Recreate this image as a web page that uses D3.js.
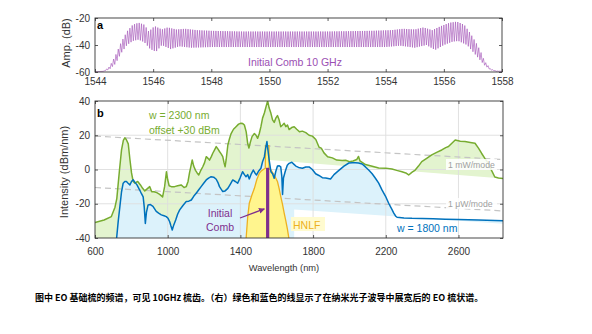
<!DOCTYPE html>
<html>
<head>
<meta charset="utf-8">
<script src="https://cdn.jsdelivr.net/npm/d3@7"></script>
<style>
  body { margin: 0; background: #fff; }
  svg { display: block; font-family: "Liberation Sans", Arial, sans-serif; }
  .tick text { fill: #333; font-size: 10px; }
  .tick line { stroke: #333; stroke-width: 0.8; }
</style>
</head>
<body>
<div id="chart"></div>
<script>
// panel a: envelope of the initial 10 GHz comb (nm, dB)
const combUpper = [[1544.0,-59.8],[1544.3,-59.5],[1544.5,-56],[1544.7,-48],[1544.9,-38],[1545.1,-30],[1545.3,-25],[1545.5,-23.5],[1545.7,-25],[1545.85,-30],[1546.05,-26],[1546.3,-28.5],[1546.5,-27],[1546.8,-28.5],[1547.1,-28],[1547.5,-29],[1548,-29.5],[1549,-30],[1552,-30],[1553.5,-29.5],[1554.2,-29],[1554.6,-28],[1555.0,-28.5],[1555.3,-27],[1555.6,-29],[1555.9,-26],[1556.2,-23.5],[1556.45,-22.7],[1556.7,-25],[1556.9,-31],[1557.1,-38],[1557.25,-44],[1557.4,-52],[1557.6,-57.5],[1557.8,-59.3],[1558,-59.5]];
const combLower = [[1544.0,-59.8],[1544.3,-59.5],[1544.5,-58],[1544.7,-54],[1544.9,-46],[1545.1,-40],[1545.3,-37],[1545.5,-36],[1545.7,-38],[1545.9,-43],[1546.1,-45],[1546.3,-40],[1546.6,-43],[1546.9,-41],[1547.3,-42],[1548,-41.5],[1552,-41.5],[1554,-41.5],[1554.5,-40.5],[1555,-42],[1555.4,-40],[1555.7,-43.7],[1556,-40],[1556.3,-37.5],[1556.5,-37],[1556.8,-40],[1557.0,-45],[1557.2,-50],[1557.4,-55],[1557.6,-58.5],[1557.8,-59.5],[1558,-59.5]];
const combSpacing = 0.08; // 10 GHz at 1550 nm
const xTicksA = [1544,1546,1548,1550,1552,1554,1556,1558];
const yTicksA = [-60,-40,-20];

// panel b: spectra (nm, dBm/nm)
const greenW2300 = [[600,-31],[650,-29.5],[690,-27.5],[710,-22],[720,-17],[735,0],[746,11.5],[756,17],[764,18.5],[772,17.5],[783,15],[792,6],[801,-2],[810,-7],[820,-8],[835,-7],[850,-9],[862,-11],[874,-12.5],[890,-11],[901,-10],[912,-13],[925,-13],[940,-13.5],[956,-14.5],[972,-16],[983,-10],[993,-1.3],[1000,-6],[1008,-9.5],[1020,-10],[1038,-10],[1055,-9.5],[1074,-9],[1090,-10.5],[1102,-10],[1112,-7],[1120,-2],[1128,2],[1135,5.6],[1143,2],[1153,-0.5],[1162,-2],[1171,-3.2],[1180,-1],[1193,1.6],[1203,4],[1212,7.5],[1222,6.5],[1230,5.5],[1240,7.5],[1248,9.5],[1258,11.5],[1267,13.4],[1276,12],[1285,10.5],[1295,9],[1303,7.5],[1310,4],[1316,1.6],[1322,6],[1331,14.3],[1340,18],[1349,21],[1362,23.5],[1376,25],[1390,26.5],[1403,27],[1413,26.8],[1422,26],[1432,22],[1440,15.3],[1447,12.5],[1455,16],[1464,19.2],[1477,21],[1486,20],[1495,18.2],[1504,21],[1513,25],[1522,30],[1532,33],[1542,37],[1550,40],[1558,36],[1568,32.8],[1577,29],[1586,27.5],[1595,30],[1604,31.5],[1613,29],[1622,25],[1632,26],[1641,27],[1650,25],[1659,26],[1668,23.3],[1682,24.5],[1696,25],[1710,23.5],[1725,22],[1741,22.4],[1760,21.5],[1778,20],[1796,19.5],[1815,17.5],[1833,13],[1845,12.5],[1860,9.7],[1880,7.5],[1906,6.8],[1930,5.5],[1960,5.2],[1979,5.4],[2000,4.6],[2020,5],[2040,5.8],[2050,7.6],[2058,5],[2088,2.9],[2120,2],[2161,0.9],[2200,0.8],[2234,0.3],[2260,-0.5],[2289,-1.3],[2310,-2],[2326,-3.2],[2345,-1.5],[2362,-0.3],[2380,2],[2398,4.6],[2425,6.5],[2453,8.5],[2480,10],[2508,11.4],[2530,12.8],[2545,13.4],[2565,15.5],[2582,17.2],[2610,16.5],[2636,16.3],[2665,15.8],[2691,15.3],[2710,12.5],[2727,9.5],[2745,6.5],[2764,3.7],[2782,-0.5],[2800,-4.4],[2820,-5],[2845,-5.2]];
const blueW1800 = [[719,-40],[728,-30],[737,-21.5],[746,-13],[755,-8],[764,-7],[773,-7],[782,-8],[792,-9],[801,-7],[810,-6],[820,-7.5],[831,-9],[846,-12],[855,-14],[865,-16],[871,-22],[877,-31.5],[883,-25],[892,-20.7],[905,-20.5],[919,-21.5],[928,-23],[937,-24.5],[950,-25.5],[965,-26.5],[980,-27],[992,-27.5],[1002,-28.5],[1011,-30.5],[1018,-33],[1025,-35.3],[1033,-32.5],[1044,-29.5],[1055,-26],[1066,-23.6],[1084,-21],[1102,-18.7],[1116,-18.5],[1130,-17.8],[1144,-15.5],[1157,-13.9],[1170,-12],[1184,-10],[1198,-8],[1212,-6.1],[1225,-5],[1239,-4.2],[1253,-4.5],[1267,-5.7],[1276,-7.5],[1285,-10],[1294,-11.5],[1303,-12.9],[1316,-12.5],[1331,-11],[1345,-8.5],[1358,-6.1],[1372,-7],[1385,-8],[1398,-5],[1412,-1.3],[1422,-3],[1431,-4.2],[1440,-3],[1449,-5.5],[1460,-2.5],[1471,-0.3],[1480,-2],[1489,-3.2],[1500,-1],[1513,0.7],[1522,4.5],[1532,7.5],[1540,13],[1546,16.3],[1552,11],[1559,5],[1568,-1.3],[1577,-2.5],[1586,-5.1],[1595,-1],[1604,2],[1614,2.2],[1622,1.5],[1628,-4],[1632,-14.6],[1637,-5],[1647,-1],[1658,2.5],[1668,3.6],[1683,4.2],[1695,3],[1705,2],[1720,1.2],[1741,0.7],[1760,1.5],[1778,1.5],[1796,0],[1814,-2.5],[1832,-3.5],[1851,-4.8],[1870,-5],[1896,-5.5],[1915,-3],[1942,-0.5],[1970,2],[1997,3.8],[2015,4],[2033,4],[2050,3.8],[2070,3.2],[2088,1.5],[2106,-0.3],[2125,-2.5],[2143,-5.1],[2161,-8],[2179,-11.9],[2198,-15.5],[2216,-19.7],[2230,-22.5],[2244,-25.5],[2255,-27.3],[2262,-27.9],[2300,-28.3],[2344,-28.5],[2400,-28.6],[2460,-28.8],[2527,-29],[2600,-29.2],[2710,-29.5],[2800,-29.8],[2845,-29.9]];
const hnlf = [[1431,-41],[1440,-28],[1449,-19.7],[1463,-15],[1477,-11],[1490,-6],[1504,-2.2],[1515,-0.8],[1530,0.3],[1537,0.7],[1538,14],[1557,14],[1558,0.2],[1568,-0.3],[1586,-3.2],[1604,-7],[1613,-11],[1622,-15.7],[1632,-20.5],[1641,-25.5],[1650,-30],[1659,-35],[1668,-41]];
const initialComb = [[1550,-40],[1550,1]];
const mWPerMode = [[600,19.5],[2845,5.8]];
const uWPerMode = [[600,-10.5],[2845,-24.2]];
// lower edges of the shaded regions
const greenFloor = [[600,-40],[1560,-40],[1560,5.5],[2845,-5.3]];
const blueFloor = [[600,-40],[1696,-40],[1696,-23.3],[2845,-31.7]];
const xTicksB = [600,1000,1400,1800,2200,2600];
const yTicksB = [-40,-20,0,20,40];

const fmt = d => String(d);
const width = 592, height = 334;
const svg = d3.select("#chart").append("svg")
    .attr("width", width)
    .attr("height", height);

// ---------- panel a ----------
const xa = d3.scaleLinear().domain([1544, 1558]).range([95, 502]);
const ya = d3.scaleLinear().domain([-60, -20]).range([72, 18]);

const gA = svg.append("g");
gA.append("defs").append("clipPath").attr("id", "clipA")
    .append("rect").attr("x", 95).attr("y", 18).attr("width", 407).attr("height", 54);

const upEnv = d3.scaleLinear().domain(combUpper.map(d => d[0])).range(combUpper.map(d => d[1])).clamp(true);
const loEnv = d3.scaleLinear().domain(combLower.map(d => d[0])).range(combLower.map(d => d[1])).clamp(true);
const combPts = [];
for (let x = 1544; x <= 1558; x += combSpacing) {
    combPts.push([x - combSpacing / 2, loEnv(x - combSpacing / 2)]);
    combPts.push([x, upEnv(x)]);
}
gA.append("path")
    .datum(combPts)
    .attr("clip-path", "url(#clipA)")
    .attr("fill", "none")
    .attr("stroke", "#a658b9")
    .attr("stroke-width", 0.65)
    .attr("d", d3.line().x(d => xa(d[0])).y(d => ya(d[1])));

gA.append("g").attr("transform", "translate(0,72)")
    .call(d3.axisBottom(xa).tickValues(xTicksA).tickSize(-3).tickPadding(6).tickFormat(fmt))
    .call(g => g.select(".domain").remove());
gA.append("g").attr("transform", "translate(0,18)")
    .call(d3.axisTop(xa).tickValues(xTicksA).tickSize(-3).tickFormat(""))
    .call(g => g.select(".domain").remove());
gA.append("g").attr("transform", "translate(95,0)")
    .call(d3.axisLeft(ya).tickValues(yTicksA).tickSize(-3).tickPadding(5).tickFormat(fmt))
    .call(g => g.select(".domain").remove());
gA.append("g").attr("transform", "translate(502,0)")
    .call(d3.axisRight(ya).tickValues(yTicksA).tickSize(-3).tickFormat(""))
    .call(g => g.select(".domain").remove());
gA.append("rect").attr("x", 95).attr("y", 18).attr("width", 407).attr("height", 54)
    .attr("fill", "none").attr("stroke", "#333").attr("stroke-width", 0.9);

gA.append("text").attr("x", 97).attr("y", 29).text("a")
    .style("font-size", "11px").style("font-weight", "bold");
gA.append("text").attr("x", 248).attr("y", 66).text("Initial Comb 10 GHz")
    .style("font-size", "10.5px").attr("fill", "#9b4fb3");
gA.append("text")
    .attr("transform", "translate(70,43) rotate(-90)")
    .attr("text-anchor", "middle")
    .text("Amp. (dB)")
    .style("font-size", "11px").attr("fill", "#333");

// ---------- panel b ----------
const xb = d3.scaleLinear().domain([600, 2845]).range([95, 503]);
const yb = d3.scaleLinear().domain([-40, 40]).range([238, 101]);
const lineB = d3.line().x(d => xb(d[0])).y(d => yb(d[1]));

const defs = svg.append("defs");
defs.append("clipPath").attr("id", "clipB")
    .append("rect").attr("x", 95).attr("y", 101).attr("width", 408).attr("height", 137);
// region above each floor line
function aboveFloor(id, floor) {
    const pts = [[600, 60], [2845, 60]].concat(floor.slice().reverse());
    defs.append("clipPath").attr("id", id)
        .append("path").attr("d", lineB(pts) + "Z");
}
aboveFloor("clipGreen", greenFloor);
aboveFloor("clipBlue", blueFloor);

const gB = svg.append("g").attr("clip-path", "url(#clipB)");
const areaB = d3.area().x(d => xb(d[0])).y0(yb(-40)).y1(d => yb(d[1]));

gB.append("g").attr("clip-path", "url(#clipGreen)")
    .append("path").datum(greenW2300)
    .attr("fill", "#e3f4cf").attr("d", areaB);
gB.append("g").attr("clip-path", "url(#clipBlue)")
    .append("path").datum(blueW1800)
    .attr("fill", "#dcf2fb").attr("d", areaB);

// grid
gB.append("g").selectAll("line.gx").data(xTicksB.slice(1)).join("line")
    .attr("x1", d => xb(d)).attr("x2", d => xb(d))
    .attr("y1", 101).attr("y2", 238)
    .attr("stroke", "#dedede").attr("stroke-width", 0.9);
gB.append("g").selectAll("line.gy").data(yTicksB.slice(1, -1)).join("line")
    .attr("x1", 95).attr("x2", 503)
    .attr("y1", d => yb(d)).attr("y2", d => yb(d))
    .attr("stroke", "#dedede").attr("stroke-width", 0.9);

// reference lines
[mWPerMode, uWPerMode].forEach(ref => {
    gB.append("path").datum(ref)
        .attr("fill", "none").attr("stroke", "#c4c4c4")
        .attr("stroke-width", 1.2).attr("stroke-dasharray", "6,4")
        .attr("d", lineB);
});

// HNLF
gB.append("path").datum(hnlf)
    .attr("fill", "#fff58e").attr("stroke", "#edb120").attr("stroke-width", 1.3)
    .attr("d", lineB);

gB.append("path").datum(greenW2300)
    .attr("fill", "none").attr("stroke", "#77ac30").attr("stroke-width", 1.5)
    .attr("stroke-linejoin", "round").attr("d", lineB);
gB.append("path").datum(blueW1800)
    .attr("fill", "none").attr("stroke", "#0072bd").attr("stroke-width", 1.5)
    .attr("stroke-linejoin", "round").attr("d", lineB);
gB.append("path").datum(initialComb)
    .attr("fill", "none").attr("stroke", "#7e2f8e").attr("stroke-width", 3.2)
    .attr("d", lineB);

// axes
const gAx = svg.append("g");
gAx.append("g").attr("transform", "translate(0,238)")
    .call(d3.axisBottom(xb).tickValues(xTicksB).tickSize(-3).tickPadding(10).tickFormat(fmt))
    .call(g => g.select(".domain").remove());
gAx.append("g").attr("transform", "translate(0,101)")
    .call(d3.axisTop(xb).tickValues(xTicksB).tickSize(-3).tickFormat(""))
    .call(g => g.select(".domain").remove());
gAx.append("g").attr("transform", "translate(95,0)")
    .call(d3.axisLeft(yb).tickValues(yTicksB).tickSize(-3).tickPadding(5).tickFormat(fmt))
    .call(g => g.select(".domain").remove());
gAx.append("g").attr("transform", "translate(503,0)")
    .call(d3.axisRight(yb).tickValues(yTicksB).tickSize(-3).tickFormat(""))
    .call(g => g.select(".domain").remove());
gAx.append("rect").attr("x", 95).attr("y", 101).attr("width", 408).attr("height", 137)
    .attr("fill", "none").attr("stroke", "#333").attr("stroke-width", 0.9);

// labels
const lab = svg.append("g");
lab.append("text").attr("x", 97).attr("y", 117).text("b")
    .style("font-size", "11px").style("font-weight", "bold");
lab.append("text").attr("x", 149).attr("y", 119).text("w = 2300 nm")
    .style("font-size", "10.5px").attr("fill", "#77ac30");
lab.append("text").attr("x", 149).attr("y", 134).text("offset +30 dBm")
    .style("font-size", "10.5px").attr("fill", "#77ac30");
lab.append("text").attr("x", 397).attr("y", 232).text("w = 1800 nm")
    .style("font-size", "10.5px").attr("fill", "#0072bd");

lab.append("rect").attr("x", 291).attr("y", 217).attr("width", 34).attr("height", 14)
    .attr("fill", "#fffbcf");
lab.append("text").attr("x", 293).attr("y", 229).text("HNLF")
    .style("font-size", "10.5px").attr("fill", "#edb120");

[["1 mW/mode", 168], ["1 \u03bcW/mode", 207]].forEach(([t, y]) => {
    lab.append("rect").attr("x", 446).attr("y", y - 9).attr("width", 51).attr("height", 11)
        .attr("fill", "#fff").attr("fill-opacity", 0.85);
    lab.append("text").attr("x", 448).attr("y", y).text(t)
        .style("font-size", "8.7px").attr("fill", "#a0a0a0");
});

lab.append("text").attr("x", 220).attr("y", 217).attr("text-anchor", "middle")
    .text("Initial").style("font-size", "10.5px").attr("fill", "#7e2f8e");
lab.append("text").attr("x", 220).attr("y", 231).attr("text-anchor", "middle")
    .text("Comb").style("font-size", "10.5px").attr("fill", "#7e2f8e");

defs.append("marker").attr("id", "arrow")
    .attr("viewBox", "0 0 10 10").attr("refX", 9).attr("refY", 5)
    .attr("markerWidth", 5).attr("markerHeight", 5).attr("orient", "auto")
    .append("path").attr("d", "M0,0L10,5L0,10Z").attr("fill", "#7e2f8e");
lab.append("path").datum([[1398, -28.3], [1532, -23]])
    .attr("fill", "none").attr("stroke", "#7e2f8e").attr("stroke-width", 1.2)
    .attr("marker-end", "url(#arrow)").attr("d", lineB);

lab.append("text")
    .attr("transform", "translate(68,172) rotate(-90)")
    .attr("text-anchor", "middle")
    .text("Intensity (dBm/nm)")
    .style("font-size", "11px").attr("fill", "#333");
lab.append("text").attr("x", 284).attr("y", 271).attr("text-anchor", "middle")
    .text("Wavelength (nm)").style("font-size", "9.3px").attr("fill", "#333");

svg.append("text").attr("x", 35).attr("y", 301)
    .text("图中 EO 基础梳的频谱，可见 10GHz 梳齿。（右）绿色和蓝色的线显示了在纳米光子波导中展宽后的 EO 梳状谱。")
    .style("font-family", "'Noto Sans CJK SC', sans-serif")
    .style("font-size", "9px").style("font-weight", "bold").attr("fill", "#000");
</script>
</body>
</html>
